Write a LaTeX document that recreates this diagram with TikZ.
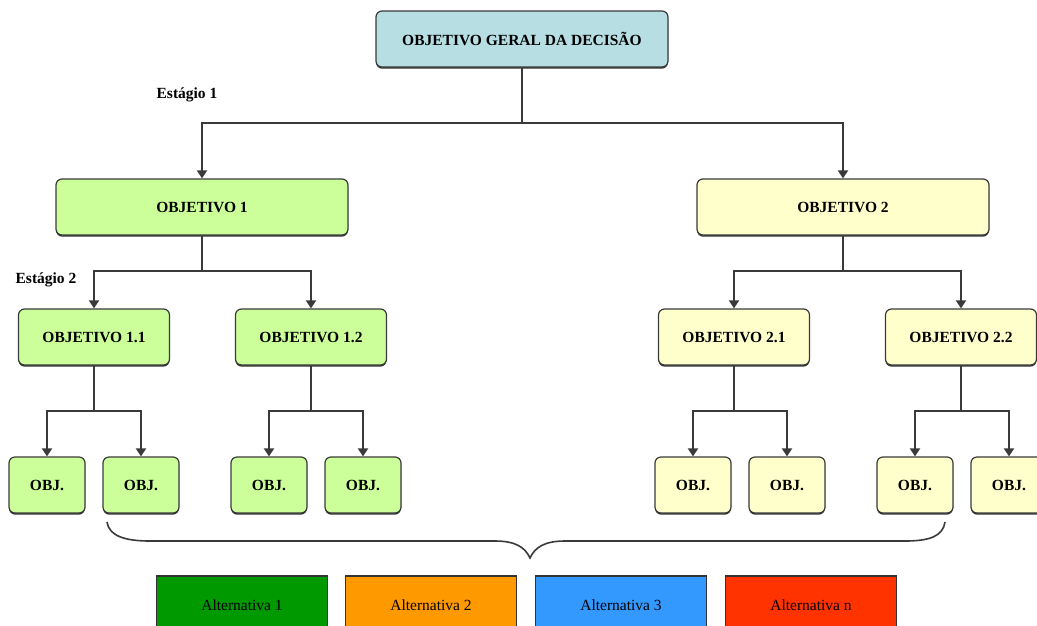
\documentclass[tikz,border=0pt]{standalone}
\usepackage{fontspec}
\setmainfont{Liberation Serif}
\usetikzlibrary{arrows.meta,shadows}
\definecolor{topblue}{HTML}{B7DEE2}
\definecolor{lgreen}{HTML}{CCFF99}
\definecolor{lyellow}{HTML}{FFFFCC}
\definecolor{altA}{HTML}{009900}
\definecolor{altB}{HTML}{FF9900}
\definecolor{altC}{HTML}{3399FF}
\definecolor{altD}{HTML}{FF3300}
\definecolor{linegray}{HTML}{3A3A3A}
\tikzset{
  box/.style={draw=linegray, line width=1.2pt, rounded corners=6pt, inner sep=0pt,
    font=\fontsize{15.5}{18}\selectfont\bfseries,
    drop shadow={shadow xshift=0pt, shadow yshift=-1.6pt, fill=black!80, opacity=1}},
  bigbox/.style={box, minimum width=292pt, minimum height=56pt},
  midbox/.style={box, minimum width=151pt, minimum height=56pt},
  smallbox/.style={box, minimum width=76pt, minimum height=56pt},
  altbox/.style={draw=black!80, line width=1.2pt, minimum width=171pt, minimum height=64pt,
    inner sep=0pt, font=\fontsize{15.5}{18}\selectfont, text depth=0pt},
  conn/.style={draw=linegray, line width=2pt},
  arr/.style={conn, -{Triangle[width=10pt,length=8pt]}},
  stage/.style={font=\fontsize{15.5}{18}\selectfont\bfseries, inner sep=0pt}
}
\begin{document}
\begin{tikzpicture}[x=1pt,y=-1pt]
\useasboundingbox (0,0) rectangle (1037,625);
% nodes
\node[bigbox, fill=topblue] (top) at (522,39) {OBJETIVO GERAL DA DECISÃO};
\node[bigbox, fill=lgreen] (o1) at (202,207) {OBJETIVO 1};
\node[bigbox, fill=lyellow] (o2) at (843,207) {OBJETIVO 2};
\node[midbox, fill=lgreen] (o11) at (94,337) {OBJETIVO 1.1};
\node[midbox, fill=lgreen] (o12) at (311,337) {OBJETIVO 1.2};
\node[midbox, fill=lyellow] (o21) at (734,337) {OBJETIVO 2.1};
\node[midbox, fill=lyellow] (o22) at (961,337) {OBJETIVO 2.2};
\node[smallbox, fill=lgreen] (a1) at (47,485) {OBJ.};
\node[smallbox, fill=lgreen] (a2) at (141,485) {OBJ.};
\node[smallbox, fill=lgreen] (a3) at (269,485) {OBJ.};
\node[smallbox, fill=lgreen] (a4) at (363,485) {OBJ.};
\node[smallbox, fill=lyellow] (b1) at (693,485) {OBJ.};
\node[smallbox, fill=lyellow] (b2) at (787,485) {OBJ.};
\node[smallbox, fill=lyellow] (b3) at (915,485) {OBJ.};
\node[smallbox, fill=lyellow] (b4) at (1009,485) {OBJ.};
\node[stage] (s1) at (187,95) {Estágio 1};
\node[stage] (s2) at (46,280) {Estágio 2};
% junctions
\coordinate (j0) at (522,123);
\coordinate (j1) at (202,271);
\coordinate (j2) at (843,271);
\coordinate (j11) at (94,411);
\coordinate (j12) at (311,411);
\coordinate (j21) at (734,411);
\coordinate (j22) at (961,411);
% connectors
\draw[conn] (top) -- (j0);
\draw[arr] (j0) -| (o1);
\draw[arr] (j0) -| (o2);
\draw[conn] (o1) -- (j1);
\draw[arr] (j1) -| (o11);
\draw[arr] (j1) -| (o12);
\draw[conn] (o2) -- (j2);
\draw[arr] (j2) -| (o21);
\draw[arr] (j2) -| (o22);
\draw[conn] (o11) -- (j11);
\draw[arr] (j11) -| (a1);
\draw[arr] (j11) -| (a2);
\draw[conn] (o12) -- (j12);
\draw[arr] (j12) -| (a3);
\draw[arr] (j12) -| (a4);
\draw[conn] (o21) -- (j21);
\draw[arr] (j21) -| (b1);
\draw[arr] (j21) -| (b2);
\draw[conn] (o22) -- (j22);
\draw[arr] (j22) -| (b3);
\draw[arr] (j22) -| (b4);
% brace
\coordinate (bl) at (107,522);
\coordinate (bt) at (530,558);
\coordinate (br) at (945,522);
\draw[draw=linegray, line width=1.6pt]
  (bl) .. controls (109,536) and (125,541) .. (150,541) -- (495,541)
  .. controls (515,541) and (525,547) .. (bt)
  .. controls (535,547) and (545,541) .. (565,541) -- (905,541)
  .. controls (930,541) and (943,536) .. (br);
% alternatives
\node[altbox, fill=altA] (alt1) at (242,608) {\raisebox{6pt}{Alternativa 1}};
\node[altbox, fill=altB] (alt2) at (431,608) {\raisebox{6pt}{Alternativa 2}};
\node[altbox, fill=altC] (alt3) at (621,608) {\raisebox{6pt}{Alternativa 3}};
\node[altbox, fill=altD] (alt4) at (811,608) {\raisebox{6pt}{Alternativa n}};
\end{tikzpicture}
\end{document}
